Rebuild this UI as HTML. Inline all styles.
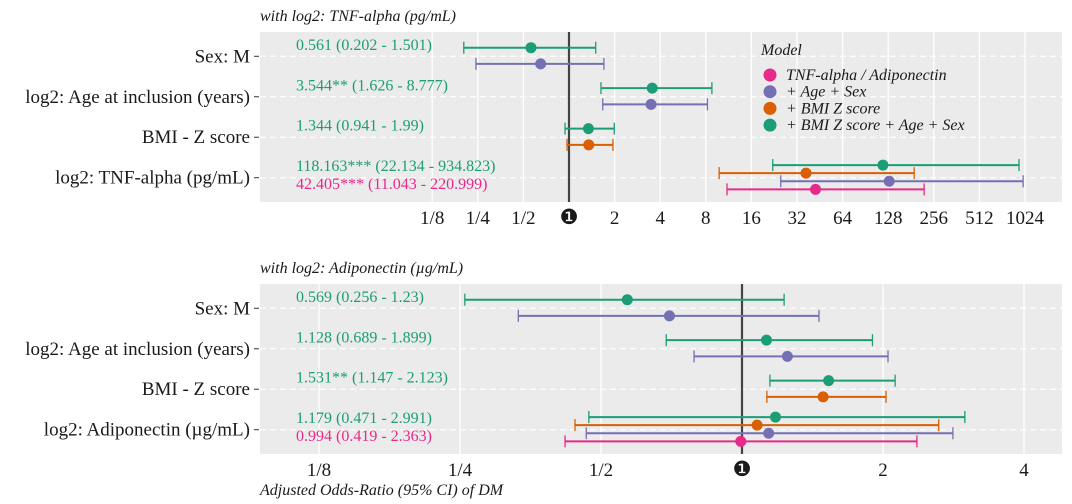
<!DOCTYPE html>
<html><head><meta charset="utf-8">
<style>
body{margin:0;background:#fff;}
svg{display:block;}
svg text{font-family:"Liberation Serif","Times New Roman","DejaVu Serif",serif;}
</style></head>
<body>
<svg id="chart" width="1072" height="504" viewBox="0 0 1072 504" font-family="Liberation Serif, serif"></svg>
<script>
const models = ["TNF-alpha / Adiponectin", "+ Age + Sex", "+ BMI Z score", "+ BMI Z score + Age + Sex"];
const colors = ["#e7298a", "#7570b3", "#d95f02", "#1b9e77"];
const topTerms = ["Sex: M", "log2: Age at inclusion (years)", "BMI - Z score", "log2: TNF-alpha (pg/mL)"];
const botTerms = ["Sex: M", "log2: Age at inclusion (years)", "BMI - Z score", "log2: Adiponectin (\u00b5g/mL)"];
// each row: entries [modelIndex, or, lo, hi]
const topData = [
  [[1,0.65,0.243,1.70],[3,0.561,0.202,1.501]],
  [[1,3.48,1.67,8.2],[3,3.544,1.626,8.777]],
  [[2,1.35,0.97,1.95],[3,1.344,0.941,1.99]],
  [[0,42.405,11.043,220.999],[1,130,25,995],[2,36.7,9.8,190],[3,118.163,22.134,934.823]]
];
const botData = [
  [[1,0.70,0.333,1.46],[3,0.569,0.256,1.23]],
  [[1,1.25,0.79,2.05],[3,1.128,0.689,1.899]],
  [[2,1.49,1.13,2.03],[3,1.531,1.147,2.123]],
  [[0,0.994,0.419,2.363],[1,1.14,0.465,2.82],[2,1.077,0.44,2.63],[3,1.179,0.471,2.991]]
];
const topLabels = [["0.561 (0.202 - 1.501)"],["3.544** (1.626 - 8.777)"],["1.344 (0.941 - 1.99)"],["118.163*** (22.134 - 934.823)","42.405*** (11.043 - 220.999)"]];
const botLabels = [["0.569 (0.256 - 1.23)"],["1.128 (0.689 - 1.899)"],["1.531** (1.147 - 2.123)"],["1.179 (0.471 - 2.991)","0.994 (0.419 - 2.363)"]];
const topTicks = [-3,-2,-1,0,1,2,3,4,5,6,7,8,9,10];
const topTickLabels = ["1/8","1/4","1/2","\u2776","2","4","8","16","32","64","128","256","512","1024"];
const botTicks = [-3,-2,-1,0,1,2];
const botTickLabels = ["1/8","1/4","1/2","\u2776","2","4"];

const svg = document.getElementById('chart');
const NS = "http://www.w3.org/2000/svg";
function mk(tag, attrs, parent){const e=document.createElementNS(NS,tag);for(const k in attrs)e.setAttribute(k,attrs[k]);(parent||svg).appendChild(e);return e;}

function panel(cfg){
  const {top,bottom,x1,scale,terms,data,labels,ticks,tickLabels,title,prefix}=cfg;
  const L=260,R=1062;
  const xs=v=>x1+Math.log2(v)*scale;
  const xt=t=>x1+t*scale;
  const unit=(bottom-top)/4.2;
  const rowY=r=>top+(0.6+r)*unit;
  const g=mk('g',{});
  
  
  const bg=mk('rect',{x:L,y:top,width:R-L,height:bottom-top,fill:'#ebebeb'},g);
  
  
  ticks.forEach((t,i)=>{
    const ln=mk('line',{x1:xt(t),x2:xt(t),y1:top,y2:bottom,stroke:'#fff','stroke-width':1.3},g);
    
    
    const lab=mk('text',{x:xt(t),y:bottom+22,'text-anchor':'middle','font-size':t===0?'21':'19',fill:'#1a1a1a'},g);
    if(t===0) lab.setAttribute('style','font-family:"DejaVu Sans",sans-serif');
    lab.textContent=tickLabels[i];
    
    
  });
  terms.forEach((term,r)=>{
    const yc=rowY(r);
    const gl=mk('line',{x1:L,x2:R,y1:yc,y2:yc,stroke:'#fff','stroke-width':1.3,'stroke-dasharray':'6,4'},g);
    
    
    mk('line',{x1:254,x2:259,y1:yc,y2:yc,stroke:'#333','stroke-width':1},g);
    const tl=mk('text',{x:250,y:yc+6,'text-anchor':'end','font-size':'19',fill:'#1a1a1a'},g);
    tl.textContent=term;
    
    
  });
  const ref=mk('line',{x1:xs(1),x2:xs(1),y1:top,y2:bottom,stroke:'#444','stroke-width':2.2},g);
  
  
  const w=0.8*unit;
  data.forEach((row,r)=>{
    const yc=rowY(r)-0.5;
    const n=row.length;
    row.forEach((d,i)=>{
      const [m,or,lo,hi]=d;
      const y=yc+((n-1)/2-i)*w/n;
      const c=colors[m];
      const eg=mk('g',{},g);
      
      
      mk('line',{x1:xs(lo),x2:xs(hi),y1:y,y2:y,stroke:c,'stroke-width':2},eg);
      mk('line',{x1:xs(lo),x2:xs(lo),y1:y-6,y2:y+6,stroke:c,'stroke-width':1.3},eg);
      mk('line',{x1:xs(hi),x2:xs(hi),y1:y-6,y2:y+6,stroke:c,'stroke-width':1.3},eg);
      mk('circle',{cx:xs(or),cy:y,r:5.5,fill:c},eg);
    });
    const labs=labels[r];
    const y0=yc-11;
    labs.forEach((s,k)=>{
      const t=mk('text',{x:296,y:y0+5+k*18,'font-size':'16',fill:k===0?colors[3]:colors[0]},g);
      t.textContent=s;
      
      
    });
  });
  const tt=mk('text',{x:260,y:top-11,'font-size':'16','font-style':'italic',fill:'#1a1a1a'},g);
  tt.textContent=title;
  
  
}

panel({top:32,bottom:202,x1:569,scale:45.6,terms:topTerms,data:topData,labels:topLabels,ticks:topTicks,tickLabels:topTickLabels,title:"with log2: TNF-alpha (pg/mL)",prefix:'tnf'});
panel({top:284,bottom:454,x1:742,scale:141,terms:botTerms,data:botData,labels:botLabels,ticks:botTicks,tickLabels:botTickLabels,title:"with log2: Adiponectin (\u00b5g/mL)",prefix:'adipo'});

const lg=mk('g',{});


const lt=mk('text',{x:761,y:55,'font-size':'16','font-style':'italic',fill:'#1a1a1a'},lg);
lt.textContent='Model';


models.forEach((m,i)=>{
  const y=75+i*16.7;
  const e=mk('g',{},lg);
  
  
  mk('circle',{cx:770,cy:y,r:6.5,fill:colors[i]},e);
  const t=mk('text',{x:786,y:y+5,'font-size':'16','font-style':'italic',fill:'#1a1a1a'},e);
  t.textContent=m;
});
const at=mk('text',{x:260,y:495,'font-size':'16','font-style':'italic',fill:'#1a1a1a'});
at.textContent='Adjusted Odds-Ratio (95% CI) of DM';


</script>
</body></html>
